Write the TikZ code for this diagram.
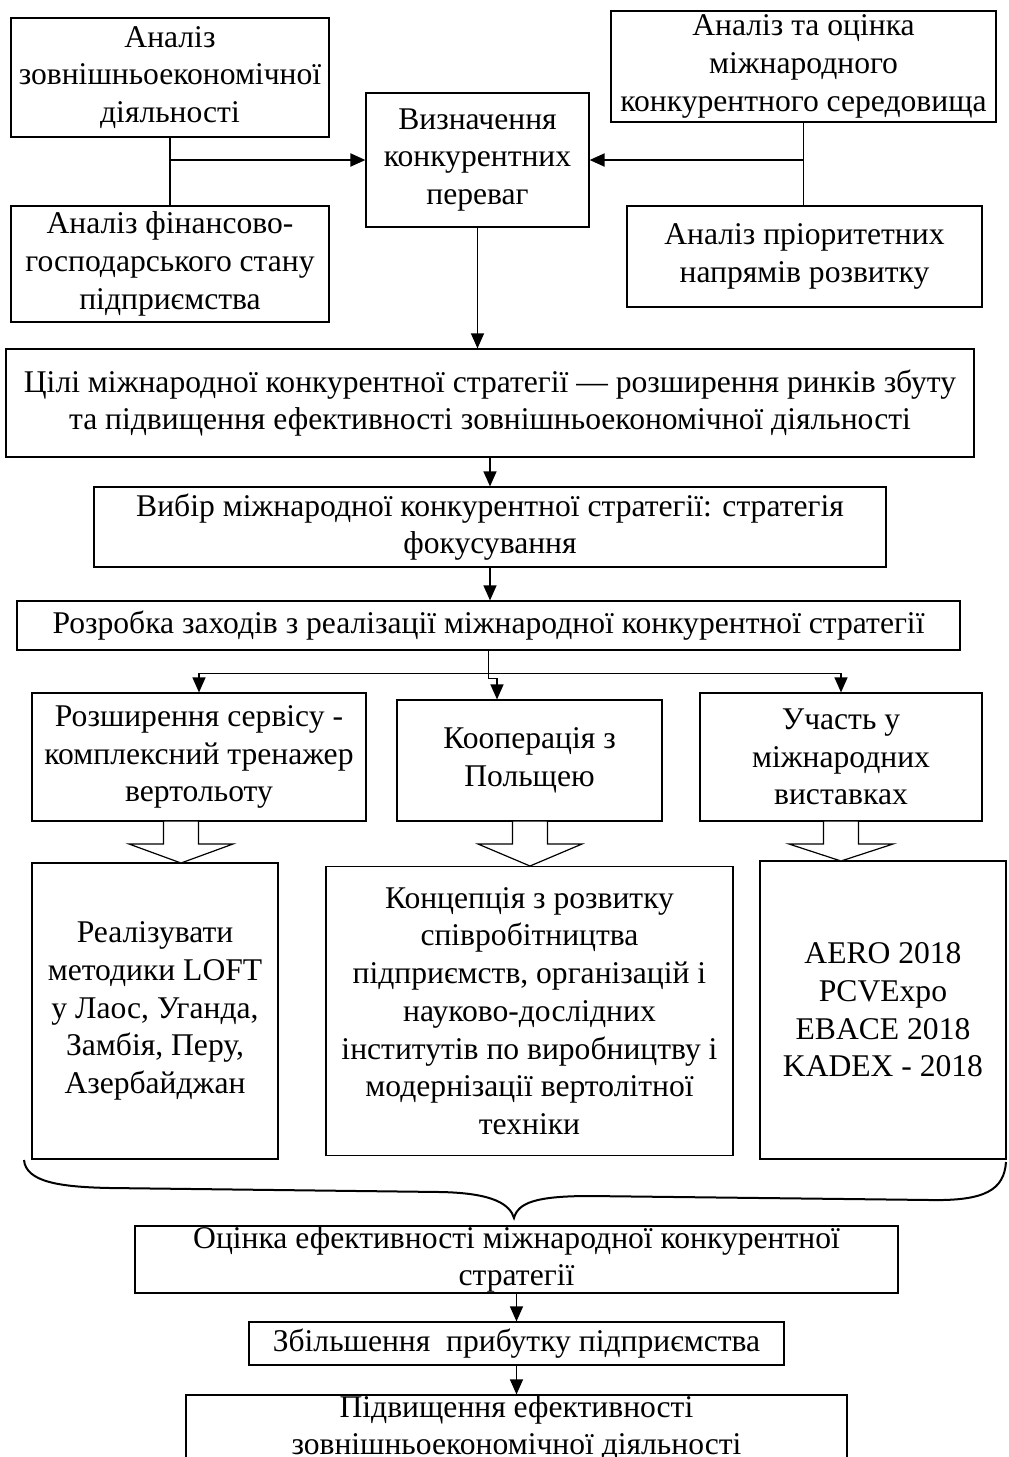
\documentclass[tikz,border=0pt]{standalone}
\usepackage{fontspec}
\setmainfont{Liberation Serif}
\usetikzlibrary{arrows.meta}
\tikzstyle{box} = [draw, line width=0.6pt, inner sep=0pt, align=center, font=\fontsize{15.8}{18.85}\selectfont]
\tikzstyle{arrow} = [line width=0.6pt, -{Triangle[length=7.5pt,width=6.5pt]}]
\tikzstyle{hollow} = [draw, line width=0.6pt, fill=white]
% hollow block arrow: centre x, top y, tip y
\newcommand{\hollowarrow}[3]{%
  \draw[hollow] (#1-17.5,#2) -- (#1+17.5,#2) -- (#1+17.5,#2+23) -- (#1+52,#2+23)
    -- (#1,#3) -- (#1-52,#2+23) -- (#1-17.5,#2+23) -- cycle;}

\begin{document}
\begin{tikzpicture}[x=0.5pt,y=-0.5pt]
	\useasboundingbox (0,0) rectangle (1008,1457);
	\clip (0,0) rectangle (1008,1457);
	
	%analysis
	\node[box, minimum width=159pt, minimum height=59.5pt] (zed) at (170,77.5) {Аналіз\\зовнішньоекономічної\\діяльності};
	\node[box, minimum width=159pt, minimum height=58pt] (fin) at (170,264) {Аналіз фінансово-\\господарського стану\\підприємства};
	\node[box, minimum width=111.5pt, minimum height=67pt] (perevagy) at (477.5,160) {Визначення\\конкурентних\\переваг};
	\node[box, minimum width=192.5pt, minimum height=55.5pt] (seredovyshche) at (803.5,66.5) {Аналіз та оцінка\\міжнародного\\конкурентного середовища};
	\node[box, minimum width=177.5pt, minimum height=50.5pt] (priorytety) at (804.5,256.5) {Аналіз пріоритетних\\напрямів розвитку};
	
	%strategy
	\node[box, minimum width=484pt, minimum height=54pt] (tsili) at (490,403) {Цілі міжнародної конкурентної стратегії — розширення ринків збуту\\та підвищення ефективності зовнішньоекономічної діяльності};
	\node[box, minimum width=396pt, minimum height=40pt] (vybir) at (490,527) {Вибір міжнародної конкурентної стратегії: стратегія\\фокусування};
	\node[box, minimum width=471.5pt, minimum height=24.5pt] (zakhody) at (488.5,625.5) {Розробка заходів з реалізації міжнародної конкурентної стратегії};
	
	%measures
	\node[box, minimum width=167pt, minimum height=64pt] (servis) at (199,757) {Розширення сервісу -\\комплексний тренажер\\вертольоту};
	\node[box, minimum width=132.5pt, minimum height=60.5pt] (kooperatsiia) at (529.5,760.5) {Кооперація з\\Польщею};
	\node[box, minimum width=141pt, minimum height=64pt] (vystavky) at (841,757) {Участь у\\міжнародних\\виставках};
	\node[box, minimum width=123pt, minimum height=148pt] (loft) at (155,1011) {Реалізувати\\методики LOFT\\у Лаос, Уганда,\\Замбія, Перу,\\Азербайджан};
	\node[box, minimum width=203.5pt, minimum height=144.5pt] (kontseptsiia) at (529.5,1011) {Концепція з розвитку\\співробітництва\\підприємств, організацій і\\науково-дослідних\\інститутів по виробництву і\\модернізації вертолітної\\техніки};
	\node[box, minimum width=123pt, minimum height=149pt] (aero) at (883,1010) {AERO 2018\\PCVExpo\\EBACE 2018\\KADEX - 2018};
	
	%results
	\node[box, minimum width=381.5pt, minimum height=33.5pt] (otsinka) at (516.5,1259.5) {Оцінка ефективності міжнародної конкурентної\\стратегії};
	\node[box, minimum width=267.5pt, minimum height=21.5pt] (prybutok) at (516.5,1343.5) {Збільшення\ \ прибутку підприємства};
	\node[box, minimum width=330.5pt, minimum height=33pt] (pidvyshchennia) at (516.5,1428) {Підвищення ефективності\\зовнішньоекономічної діяльності};
	
	\draw[line width=0.6pt] (zed.south) -- (fin.north);
	\draw[arrow, line width=1pt] (zed.south |- perevagy.west) -- (perevagy.west);
	\draw[line width=0.6pt] (seredovyshche.south) -- (seredovyshche.south |- priorytety.north);
	\draw[arrow, line width=1pt] (seredovyshche.south |- perevagy.east) -- (perevagy.east);
	\draw[arrow] (perevagy.south) -- (perevagy.south |- tsili.north);
	\draw[arrow] (tsili.south) -- (vybir.north);
	\draw[arrow] (vybir.south) -- (vybir.south |- zakhody.north);
	\draw[line width=0.6pt] (zakhody.south) -- ++(0,23) coordinate (fork);
	\draw[arrow] (fork) -| (servis.north);
	\draw[arrow] (fork) -| (vystavky.north);
	\draw[arrow] (fork) -- ++(0,5) -| ([xshift=-16.25pt]kooperatsiia.north);
	
	\hollowarrow{181}{821}{863}
	\hollowarrow{530}{821}{866}
	\hollowarrow{841}{821}{861}
	
	%brace
	\draw[line width=1pt] (24,1160) .. controls (26,1182) and (60,1187) .. (110,1188) -- (440,1192)
		.. controls (495,1193) and (510,1205) .. (514,1218)
		.. controls (518,1203) and (535,1196) .. (590,1196) -- (930,1200)
		.. controls (985,1201) and (1004,1190) .. (1006,1162);
	
	\draw[arrow] (otsinka.south) -- (prybutok.north);
	\draw[arrow] (prybutok.south) -- (pidvyshchennia.north);
\end{tikzpicture}
\end{document}
